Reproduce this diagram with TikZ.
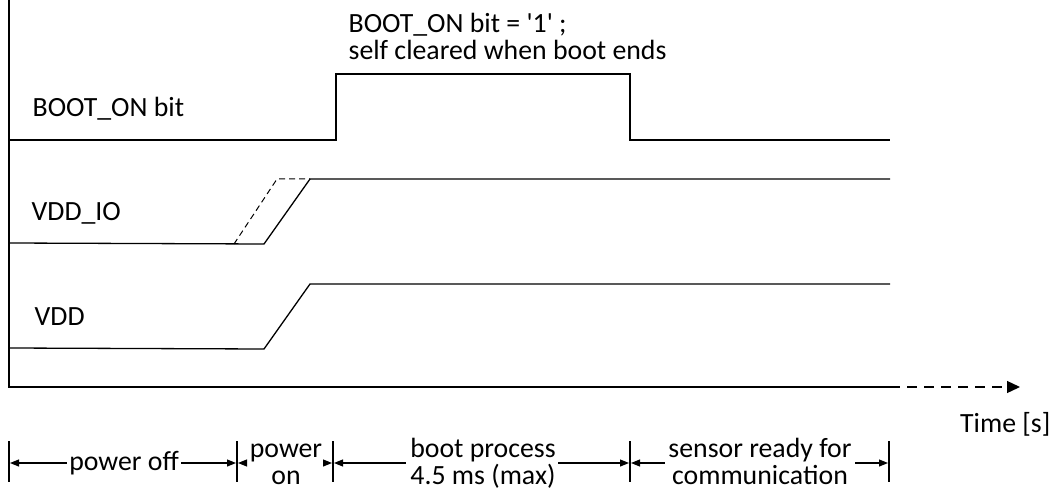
\documentclass[tikz,border=0pt]{standalone}
\usepackage{fontspec}
\setmainfont{Carlito}
\usetikzlibrary{arrows.meta}
\begin{document}
\begin{tikzpicture}[x=1pt,y=-1pt,line width=1.3pt,
  lbl/.style={inner sep=0pt,font=\fontsize{27.8}{28}\selectfont},
  tick/.style={line width=1.1pt},
  dim/.style={line width=1.1pt,-{Triangle[length=9pt,width=7pt]}},
  ghost/.style={line width=1pt,dash pattern=on 6pt off 4pt},
  timeax/.style={dash pattern=on 10pt off 7pt,-{Triangle[length=13pt,width=12pt]}}]
\useasboundingbox (0,0) rectangle (1062,489);
% axes
\coordinate (top) at (9,0);
\coordinate (o) at (9,387);
\coordinate (axend) at (890,387);
\coordinate (tip) at (1020,387);
\draw (top) -- (o) -- (axend);
\draw[timeax] (axend) -- (tip);
\node[lbl,anchor=base east] (time) at (1051,432) {Time [s]};
% BOOT_ON bit
\draw (9,140) -- (336,140) -- (336,74) -- (630,74) -- (630,140) -- (890,140);
\node[lbl,anchor=base west] (bootlbl) at (32,117) {BOOT\_ON bit};
\node[lbl,anchor=base west] (note1) at (348,33) {BOOT\_ON bit = \textquotesingle 1\textquotesingle\ ;};
\node[lbl,anchor=base west] (note2) at (348,60) {self cleared when boot ends};
% VDD_IO
\draw (9,243) -- (264,244) -- (310,179) -- (890,179);
\draw[ghost] (234,244) -- (277,179) -- (310,179);
\node[lbl,anchor=base west] (vddiolbl) at (31,220) {VDD\_IO};
% VDD
\draw (9,348) -- (264,349) -- (310,284) -- (890,284);
\node[lbl,anchor=base west] (vddlbl) at (34,325) {VDD};
% phase ticks
\foreach \n/\x in {t0/9,t1/237,t2/333,t3/630,t4/889}{
  \coordinate (\n a) at (\x,441);
  \coordinate (\n b) at (\x,482);
  \coordinate (\n) at (\x,463);
  \draw[tick] (\n a) -- (\n b);
}
% labels
\node[lbl,anchor=base] (poff) at (124,470) {power off};
\node[lbl,anchor=base] (pon1) at (286,457) {power};
\node[lbl,anchor=base] (pon2) at (286,484) {on};
\node[lbl,anchor=base] (boot1) at (483,457) {boot process};
\node[lbl,anchor=base] (boot2) at (483,484) {4.5 ms (max)};
\node[lbl,anchor=base] (sens1) at (760,457) {sensor ready for};
\node[lbl,anchor=base] (sens2) at (760,484) {communica\kern0pt tion};
% dimension arrows
\draw[dim] ([xshift=-2pt]poff.west |- t0) -- ([xshift=1pt]t0);
\draw[dim] ([xshift=2pt]poff.east |- t1) -- ([xshift=-1pt]t1);
\draw[dim] ([xshift=-4pt]pon1.west |- t1) -- ([xshift=1pt]t1);
\draw[dim] ([xshift=3pt]pon1.east |- t2) -- ([xshift=-1pt]t2);
\draw[dim] ([xshift=-4pt]boot1.west |- t2) -- ([xshift=1pt]t2);
\draw[dim] ([xshift=2pt]boot1.east |- t3) -- ([xshift=-1pt]t3);
\draw[dim] ([xshift=-3pt]sens1.west |- t3) -- ([xshift=1pt]t3);
\draw[dim] ([xshift=3pt]sens1.east |- t4) -- ([xshift=-1pt]t4);
\end{tikzpicture}
\end{document}
